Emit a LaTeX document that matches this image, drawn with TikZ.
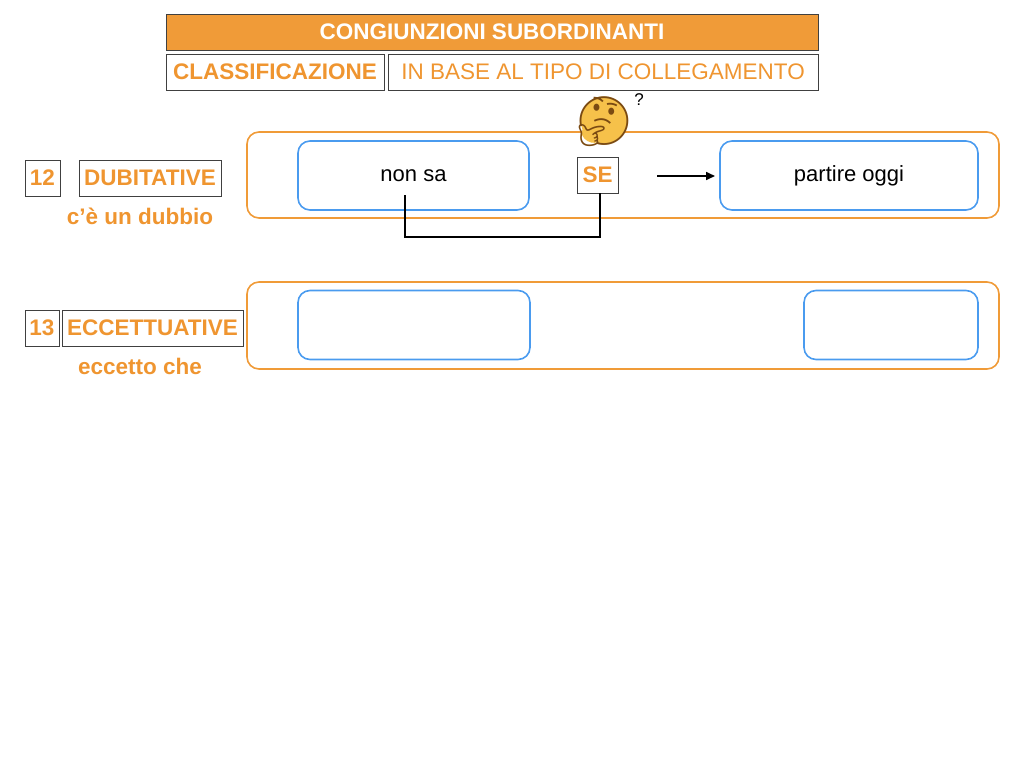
\documentclass[tikz,border=0pt]{standalone}
\usepackage{fontspec}
\setmainfont{Liberation Sans}
\newfontfamily\emojifont{Noto Emoji}
\usetikzlibrary{arrows.meta}
\definecolor{orng}{HTML}{F09B38}
\definecolor{orngtxt}{HTML}{EF9530}
\definecolor{bluebox}{HTML}{4A9BEF}
\definecolor{emojiyel}{HTML}{F6C14A}
\definecolor{emojibrn}{HTML}{7A4A12}
\tikzset{
  hdr/.style={draw=black!75, line width=0.9pt, fill=orng, text=white, font=\bfseries\fontsize{22.5}{22.5}\selectfont, minimum height=36pt, inner sep=0pt},
  labbox/.style={draw=black!75, line width=0.9pt, text=orngtxt, minimum height=36pt, inner sep=0pt},
  bigframe/.style={draw=orng, line width=1.6pt, rounded corners=12pt},
  bluerect/.style={draw=bluebox, line width=1.6pt, rounded corners=12pt, minimum height=69pt, inner sep=0pt},
  plain/.style={font=\fontsize{22}{22}\selectfont, text=black},
  boldlab/.style={font=\bfseries\fontsize{22.5}{22.5}\selectfont},
  subtxt/.style={text=orngtxt, font=\bfseries\fontsize{22.5}{22.5}\selectfont},
  conn/.style={draw=black, line width=2pt},
}
\begin{document}
\begin{tikzpicture}[x=1pt,y=-1pt]
\useasboundingbox (0,0) rectangle (1024,768);
% header
\node[hdr, minimum width=652pt] (title) at (492,32) {CONGIUNZIONI SUBORDINANTI};
\node[labbox, minimum width=218pt, boldlab] (classif) at (275,72) {CLASSIFICAZIONE};
\node[labbox, minimum width=430pt, font=\fontsize{22.5}{22.5}\selectfont] (inbase) at (603,72) {IN BASE AL TIPO DI COLLEGAMENTO};
% row 12
\node[labbox, minimum width=35pt, boldlab] (n12) at (42.5,178) {12};
\node[labbox, minimum width=142pt, boldlab] (dub) at (150,178) {DUBITATIVE};
\node[subtxt] (dubsub) at (140,216) {c’è un dubbio};
\draw[bigframe] (247,132) rectangle (999,218);
\node[bluerect, minimum width=231pt, plain] (nonsa) at (413.5,175.5) {non sa};
\node[labbox, minimum width=41pt, boldlab] (se) at (597.5,175) {SE};
\node[bluerect, minimum width=258pt, plain] (partire) at (849,175.5) {partire oggi};
\coordinate (arrstart) at (657,176);
\coordinate (arrend) at (715,176);
\draw[conn, line width=1.6pt, -{Triangle[length=9pt,width=8pt]}] (arrstart) -- (arrend);
\coordinate (cA) at (405,195);
\coordinate (cB) at (600,193);
\draw[conn] (cA) -- (405,237) -- (600,237) -- (cB);
\fill[emojiyel] (604,120) circle (23.5pt);
\fill[emojiyel, rotate around={-30:(591,135)}] (591,135) ellipse (10pt and 7pt);
\node[text=emojibrn, font=\emojifont\fontsize{48}{48}\selectfont, inner sep=0pt] (emo) at (604,122) {🤔};
\node[font=\fontsize{17}{17}\selectfont, inner sep=0pt] (q) at (639,100) {?};
% row 13
\node[labbox, minimum width=34pt, boldlab] (n13) at (42,328) {13};
\node[labbox, minimum width=181pt, boldlab] (ecc) at (152.5,328) {ECCETTUATIVE};
\node[subtxt] (eccsub) at (140,366) {eccetto che};
\draw[bigframe] (247,282) rectangle (999,369);
\node[bluerect, minimum width=232pt] (b1) at (414,325) {};
\node[bluerect, minimum width=174pt] (b2) at (891,325) {};
\end{tikzpicture}
\end{document}
